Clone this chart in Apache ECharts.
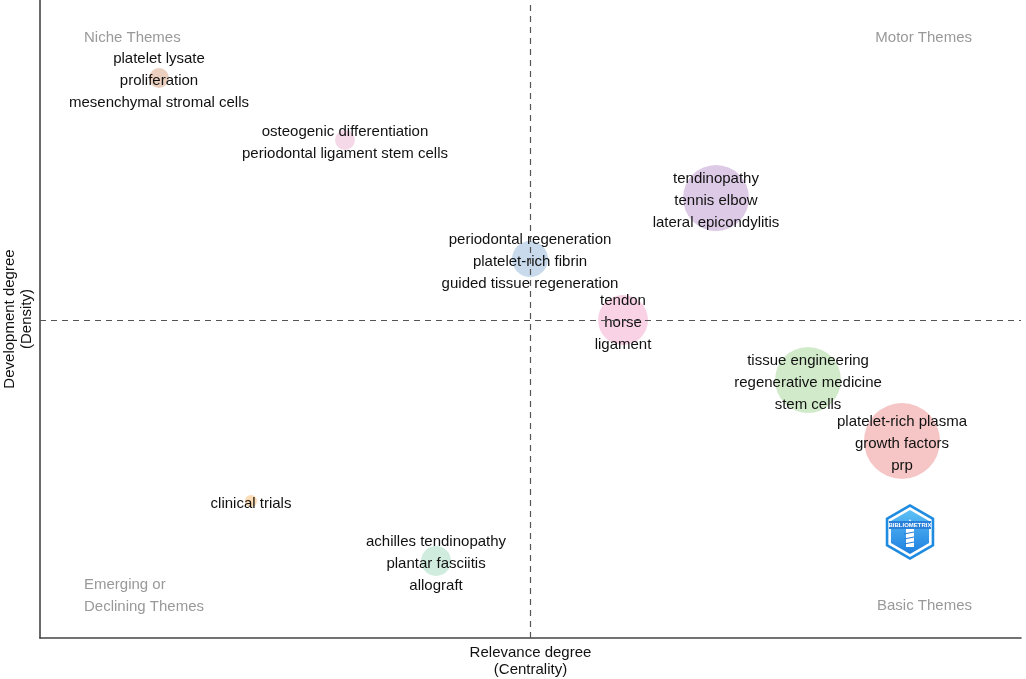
<!DOCTYPE html>
<html>
<head>
<meta charset="utf-8">
<script src="https://cdn.jsdelivr.net/npm/echarts@6/dist/echarts.min.js"></script>
<style>html,body{margin:0;padding:0;background:#fff}#chart{width:1026px;height:679px}</style>
</head>
<body>
<div id="chart"></div>
<script>
// Cluster data (centrality, density, frequency, labels)
const clusterLabels = [
  ["platelet lysate", "proliferation", "mesenchymal stromal cells"],
  ["osteogenic differentiation", "periodontal ligament stem cells"],
  ["tendinopathy", "tennis elbow", "lateral epicondylitis"],
  ["periodontal regeneration", "platelet-rich fibrin", "guided tissue regeneration"],
  ["tendon", "horse", "ligament"],
  ["tissue engineering", "regenerative medicine", "stem cells"],
  ["platelet-rich plasma", "growth factors", "prp"],
  ["clinical trials"],
  ["achilles tendinopathy", "plantar fasciitis", "allograft"]
];
const centrality = [12.13, 31.09, 68.91, 49.95, 59.43, 78.29, 87.87, 21.51, 40.37];
const density    = [87.77, 78.06, 68.97, 59.40, 49.84, 40.44, 30.88, 21.47, 12.07];
const frequency  = [100, 100, 1089, 324, 625, 1089, 1444, 36, 225];
const clusterColors = ["#ebd0c0", "#f5d9e8", "#ddcae6", "#c8daec", "#fad2e5", "#d1ebca", "#f6c5c5", "#fcdcb4", "#d0ecdf"];
const centralityMedian = 49.95;
const densityMedian = 49.84;
const quadrantLabels = ["Niche Themes", "Motor Themes", "Emerging or\nDeclining Themes", "Basic Themes"];

const chart = echarts.init(document.getElementById('chart'), null, {renderer: 'canvas'});
const FONT = '"Liberation Sans", Arial, sans-serif';

const data = centrality.map((c, i) => ({
  value: [c, density[i], frequency[i]],
  itemStyle: {color: clusterColors[i]},
  label: {formatter: clusterLabels[i].join('\n')}
}));

const hex = [];
for (let k = 0; k < 6; k++) {
  const a = Math.PI / 3 * k - Math.PI / 2;
  hex.push([Math.cos(a), Math.sin(a)]);
}
function hexPts(cx, cy, r) { return hex.map(p => [cx + p[0] * r, cy + p[1] * r]); }

chart.setOption({
  animation: false,
  backgroundColor: '#fff',
  grid: {left: 40, right: 5, top: 0, bottom: 41, containLabel: false, outerBoundsMode: 'none'},
  xAxis: {
    type: 'value', min: 0, max: 100,
    name: 'Relevance degree\n(Centrality)', nameLocation: 'middle', nameGap: 23,
    nameTextStyle: {fontFamily: FONT, fontSize: 15, color: '#111', lineHeight: 17, verticalAlign: 'middle'},
    axisLine: {show: true, onZero: false, lineStyle: {color: '#444', width: 1.6}},
    axisTick: {show: false}, axisLabel: {show: false}, splitLine: {show: false}
  },
  yAxis: {
    type: 'value', min: 0, max: 100,
    name: 'Development degree\n(Density)', nameLocation: 'middle', nameGap: 22,
    nameTextStyle: {fontFamily: FONT, fontSize: 15, color: '#111', lineHeight: 17, verticalAlign: 'middle'},
    axisLine: {show: true, onZero: false, lineStyle: {color: '#444', width: 1.6}},
    axisTick: {show: false}, axisLabel: {show: false}, splitLine: {show: false}
  },
  series: [{
    type: 'scatter',
    data: data,
    symbolSize: v => 2 * Math.sqrt(v[2]),
    itemStyle: {opacity: 1},
    label: {
      show: true, position: 'inside', color: '#111', offset: [0, 2.5],
      fontFamily: FONT, fontSize: 15, lineHeight: 22
    },
    markLine: {
      silent: true, symbol: 'none',
      lineStyle: {color: '#555', type: [6, 5], width: 1.2},
      label: {show: false},
      data: [{xAxis: centralityMedian}, {yAxis: densityMedian}]
    },
    z: 3
  }],
  graphic: [
    {type: 'text', left: 84, top: 30, style: {text: quadrantLabels[0], fill: '#999', font: '15px ' + FONT}},
    {type: 'text', right: 54, top: 30, style: {text: quadrantLabels[1], fill: '#999', font: '15px ' + FONT}},
    {type: 'text', left: 84, top: 574, style: {text: quadrantLabels[2], fill: '#999', font: '15px ' + FONT, lineHeight: 22}},
    {type: 'text', right: 54, top: 598, style: {text: quadrantLabels[3], fill: '#999', font: '15px ' + FONT}},
    {type: 'group', children: [
      {type: 'polygon', shape: {points: hexPts(910, 532, 28)}, style: {fill: '#1f8be0'}},
      {type: 'polygon', shape: {points: hexPts(910, 532, 25)}, style: {fill: '#ffffff'}},
      {type: 'polygon', shape: {points: hexPts(910, 532, 22)}, style: {
        fill: new echarts.graphic.LinearGradient(0, 0, 0, 1, [{offset: 0, color: '#5cc0f5'}, {offset: 1, color: '#1e7fe0'}])}},
      {type: 'rect', shape: {x: 906, y: 529, width: 8, height: 18}, style: {fill: '#ffffff'}},
      {type: 'polygon', shape: {points: [[905, 529], [910, 519], [915, 529]]}, style: {fill: '#ffffff'}},
      {type: 'rect', shape: {x: 889, y: 521, width: 42, height: 8}, style: {fill: '#2a80d8'}},
      {type: 'text', x: 910, y: 525, style: {text: 'BIBLIOMETRIX', fill: '#fff', font: 'bold 6px ' + FONT, textAlign: 'center', textVerticalAlign: 'middle'}},
      {type: 'polyline', shape: {points: [[904, 534], [914, 532]]}, style: {stroke: '#2a80d8', lineWidth: 1.2}},
      {type: 'polyline', shape: {points: [[904, 539], [914, 537]]}, style: {stroke: '#2a80d8', lineWidth: 1.2}},
      {type: 'polyline', shape: {points: [[904, 544], [914, 542]]}, style: {stroke: '#2a80d8', lineWidth: 1.2}}
    ]}
  ]
});
</script>
</body>
</html>
